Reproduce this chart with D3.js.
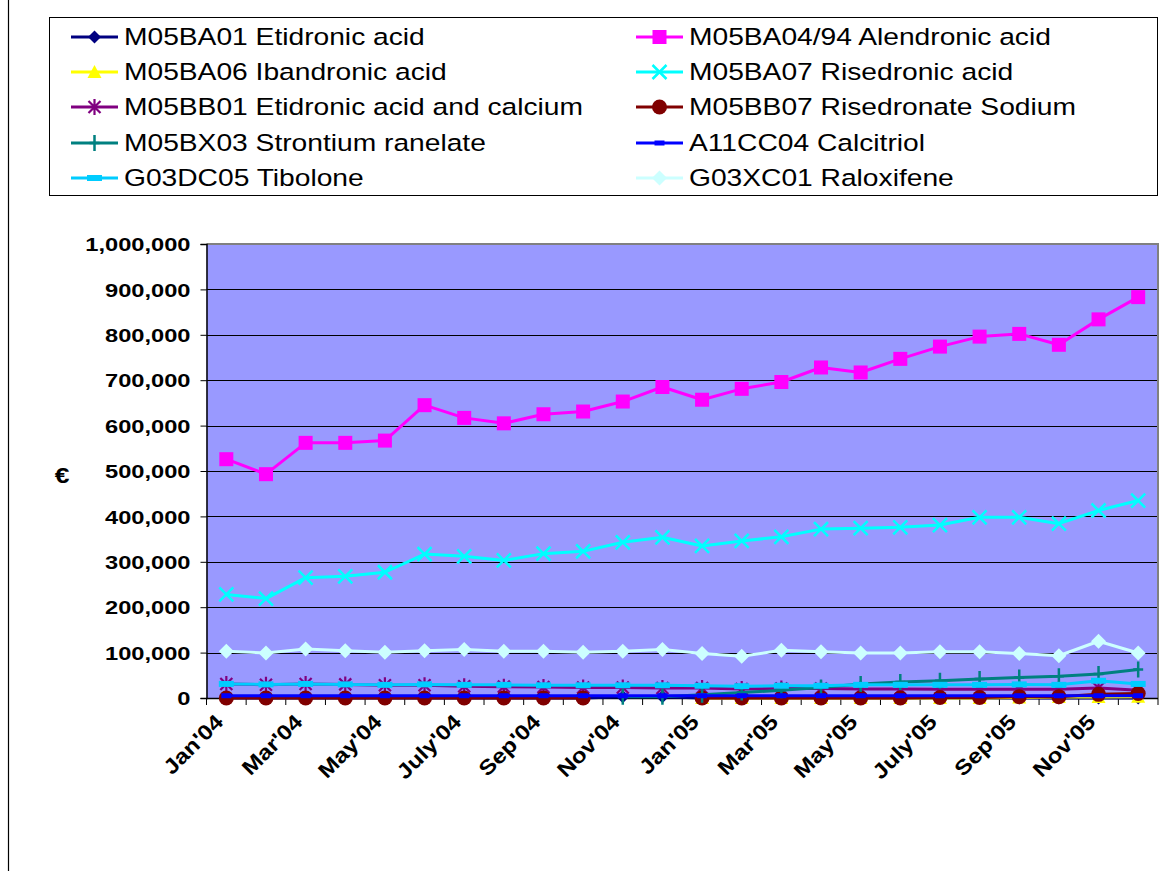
<!DOCTYPE html>
<html>
<head>
<meta charset="utf-8">
<script src="https://cdn.jsdelivr.net/npm/d3@7"></script>
<style>
  html, body { margin: 0; padding: 0; background: #fff; }
  svg { display: block; }
  text { font-family: "Liberation Sans", Arial, sans-serif; }
</style>
</head>
<body>
<svg id="chart" width="1169" height="871"></svg>
<script>
// Monthly expenditure (€) on osteoporosis drugs, Jan 2004 – Dec 2005
const months = ["Jan'04","Feb'04","Mar'04","Apr'04","May'04","June'04","July'04","Aug'04","Sep'04","Oct'04","Nov'04","Dec'04",
                "Jan'05","Feb'05","Mar'05","Apr'05","May'05","June'05","July'05","Aug'05","Sep'05","Oct'05","Nov'05","Dec'05"];
const shownMonths = ["Jan'04","Mar'04","May'04","July'04","Sep'04","Nov'04","Jan'05","Mar'05","May'05","July'05","Sep'05","Nov'05"];
const yTicks = [0,100000,200000,300000,400000,500000,600000,700000,800000,900000,1000000];

const etidronic   = [0,0,0,0,0,0,0,0,0,0,3000,3000,0,0,0,0,0,0,0,0,0,0,0,0];
const alendronic  = [526000,493000,562000,562000,567000,645000,617000,605000,625000,631000,653000,685000,
                     657000,681000,696000,728000,717000,747000,774000,796000,802000,778000,834000,883000];
const ibandronic  = [null,null,null,null,null,null,null,null,null,null,null,null,
                     0,0,0,0,0,0,0,0,1000,2000,2000,3000];
const risedronic  = [228000,219000,265000,268000,277000,317000,312000,303000,318000,323000,343000,354000,
                     335000,346000,355000,372000,374000,376000,381000,398000,398000,384000,413000,435000];
const etidCalcium = [31000,29000,31000,30000,28000,28000,26000,25000,24000,23000,23000,22000,
                     22000,20000,21000,21000,20000,20000,19000,19000,19000,19000,22000,17000];
const risSodium   = [0,0,0,0,0,0,0,0,0,0,null,null,0,0,0,0,0,0,1000,1000,3000,3000,8000,10000];
const strontium   = [null,null,null,null,null,null,null,null,null,null,3000,3000,
                     7000,12000,17000,23000,31000,35000,38000,42000,45000,48000,53000,63000];
const calcitriol  = [5000,5000,5000,5000,5000,5000,5000,5000,5000,5000,5000,5000,
                     5000,5000,5000,5000,5000,5000,5000,5000,5000,5000,5000,5000];
const tibolone    = [31000,30000,31000,30000,29000,30000,29000,29000,28000,28000,28000,28000,
                     27000,26000,27000,27000,29000,29000,29000,29000,30000,29000,38000,31000];
const raloxifene  = [103000,99000,108000,104000,101000,104000,107000,103000,103000,101000,103000,107000,
                     98000,92000,105000,102000,99000,99000,102000,102000,98000,93000,125000,99000];

const seriesNames = ["M05BA01 Etidronic acid","M05BA04/94 Alendronic acid","M05BA06 Ibandronic acid",
                     "M05BA07 Risedronic acid","M05BB01 Etidronic acid and calcium","M05BB07 Risedronate Sodium",
                     "M05BX03 Strontium ranelate","A11CC04 Calcitriol","G03DC05 Tibolone","G03XC01 Raloxifene"];
const seriesValues = [etidronic, alendronic, ibandronic, risedronic, etidCalcium, risSodium,
                      strontium, calcitriol, tibolone, raloxifene];
const seriesColors = ["#000080","#FF00FF","#FFFF00","#00FFFF","#800080","#800000",
                      "#008080","#0000FF","#00CCFF","#CCFFFF"];
const seriesMarkers = ["diamond","square","triangle","x","star","circle","plus","dashSmall","dash","diamondBig"];

// ---- layout ----
const svg = d3.select("#chart");
const plot = { left: 206.5, right: 1158, top: 244, bottom: 698 };
const sx = 1.2;   // text is drawn slightly widened

const x = d3.scaleBand().domain(months).range([plot.left, plot.right]).padding(0);
const y = d3.scaleLinear().domain([0, 1000000]).range([plot.bottom, plot.top]);
const cx = m => x(m) + x.bandwidth() / 2;

// outer frame edge on the left
svg.append("line").attr("x1", 8.5).attr("x2", 8.5).attr("y1", 0).attr("y2", 871)
  .attr("stroke", "#000").attr("stroke-width", 1.2);

// plot background
svg.append("rect").attr("x", plot.left).attr("y", plot.top)
  .attr("width", plot.right - plot.left).attr("height", plot.bottom - plot.top)
  .attr("fill", "#9999FF");

// gridlines
svg.append("g").selectAll("line").data(yTicks.filter(v => v > 0 && v < 1000000)).join("line")
  .attr("x1", plot.left).attr("x2", plot.right)
  .attr("y1", d => Math.round(y(d)) + 0.5).attr("y2", d => Math.round(y(d)) + 0.5)
  .attr("stroke", "#000").attr("stroke-width", 1);

// grey border top and right
svg.append("path")
  .attr("d", `M${plot.left},${plot.top} H${plot.right} V${plot.bottom}`)
  .attr("fill", "none").attr("stroke", "#808080").attr("stroke-width", 2);

// y axis
const yAxis = svg.append("g").attr("transform", `translate(${plot.left},0)`)
  .call(d3.axisLeft(y).tickValues(yTicks).tickSize(6).tickFormat(d3.format(",")));
yAxis.select(".domain").attr("stroke", "#000").attr("stroke-width", 1.5);
yAxis.selectAll(".tick line").attr("stroke", "#000");
yAxis.selectAll(".tick text")
  .attr("x", -16 / 1.28).attr("dy", "0.36em")
  .attr("transform", `scale(1.28,1)`)
  .style("font-size", "18.5px").style("font-weight", "bold").attr("fill", "#000")
  .style("font-family", "'Liberation Sans', Arial, sans-serif");

// x axis: tick marks between categories
const xAxisG = svg.append("g");
xAxisG.append("line").attr("x1", plot.left).attr("x2", plot.right)
  .attr("y1", plot.bottom + 0.5).attr("y2", plot.bottom + 0.5)
  .attr("stroke", "#000").attr("stroke-width", 1.5);
const boundaries = months.map(m => x(m)).concat([x.range()[1]]);
xAxisG.selectAll("line.tk").data(boundaries).join("line").attr("class", "tk")
  .attr("x1", d => d).attr("x2", d => d)
  .attr("y1", plot.bottom).attr("y2", plot.bottom + 7)
  .attr("stroke", "#000").attr("stroke-width", 1);
xAxisG.selectAll("text").data(shownMonths).join("text")
  .attr("transform", d => `translate(${cx(d) - 7},${plot.bottom + 20}) rotate(-45) scale(1.15,1)`)
  .attr("text-anchor", "end")
  .attr("dy", "0.35em")
  .style("font-size", "21px").style("font-weight", "bold").attr("fill", "#000")
  .text(d => d);

// y axis title
svg.append("text")
  .attr("transform", `translate(62,${(plot.top + plot.bottom) / 2 + 12}) scale(1.2,1)`)
  .attr("text-anchor", "middle")
  .style("font-size", "22px").style("font-weight", "bold").text("€");

// ---- markers ----
function drawMarker(g, type, color) {
  switch (type) {
    case "diamond":
      g.append("path").attr("d", "M0,-6.5L6.5,0L0,6.5L-6.5,0Z").attr("fill", color); break;
    case "diamondBig":
      g.append("path").attr("d", "M0,-7.5L7.5,0L0,7.5L-7.5,0Z").attr("fill", color); break;
    case "square":
      g.append("rect").attr("x", -7).attr("y", -7).attr("width", 14).attr("height", 14).attr("fill", color); break;
    case "triangle":
      g.append("path").attr("d", "M0,-7L7,6L-7,6Z").attr("fill", color); break;
    case "x":
      g.append("path").attr("d", "M-7,-7L7,7M7,-7L-7,7").attr("stroke", color).attr("stroke-width", 2.5).attr("fill", "none"); break;
    case "star":
      g.append("path").attr("d", "M-6,-6L6,6M6,-6L-6,6M0,-8L0,8").attr("stroke", color).attr("stroke-width", 2.2).attr("fill", "none"); break;
    case "circle":
      g.append("circle").attr("r", 7.5).attr("fill", color); break;
    case "plus":
      g.append("path").attr("d", "M0,-8L0,8M-5,0L5,0").attr("stroke", color).attr("stroke-width", 2.5).attr("fill", "none"); break;
    case "dashSmall":
      g.append("rect").attr("x", -5).attr("y", -2.5).attr("width", 10).attr("height", 5).attr("fill", color); break;
    case "dash":
      g.append("rect").attr("x", -7.5).attr("y", -3).attr("width", 15).attr("height", 6).attr("fill", color); break;
  }
}

// ---- series ----
const line = d3.line()
  .defined(d => d.v !== null)
  .x(d => cx(d.m))
  .y(d => y(d.v));

seriesValues.forEach((vals, i) => {
  const pts = months.map((m, j) => ({ m, v: vals[j] }));
  const g = svg.append("g").attr("class", "series");
  g.append("path").datum(pts).attr("d", line)
    .attr("fill", "none").attr("stroke", seriesColors[i]).attr("stroke-width", 3)
    .attr("stroke-linejoin", "round");
  pts.filter(p => p.v !== null).forEach(p => {
    const mg = g.append("g").attr("transform", `translate(${cx(p.m)},${y(p.v)})`);
    drawMarker(mg, seriesMarkers[i], seriesColors[i]);
  });
});

// ---- legend ----
const legend = svg.append("g");
legend.append("rect").attr("x", 49.5).attr("y", 17.5).attr("width", 1108).attr("height", 178)
  .attr("fill", "#fff").attr("stroke", "#000").attr("stroke-width", 1);
const rowY = [37, 72, 107, 143, 178];
const colX = [{ l1: 71, l2: 118, t: 124 }, { l1: 636, l2: 683, t: 689 }];
seriesNames.forEach((name, i) => {
  const c = colX[i % 2], ry = rowY[Math.floor(i / 2)];
  legend.append("line").attr("x1", c.l1).attr("x2", c.l2).attr("y1", ry).attr("y2", ry)
    .attr("stroke", seriesColors[i]).attr("stroke-width", 3);
  const mg = legend.append("g").attr("transform", `translate(${(c.l1 + c.l2) / 2},${ry})`);
  drawMarker(mg, seriesMarkers[i], seriesColors[i]);
  legend.append("text")
    .attr("transform", `translate(${c.t},${ry}) scale(${sx},1)`)
    .attr("dy", "0.36em")
    .style("font-size", "23.5px").attr("fill", "#000")
    .text(name);
});
</script>
</body>
</html>
